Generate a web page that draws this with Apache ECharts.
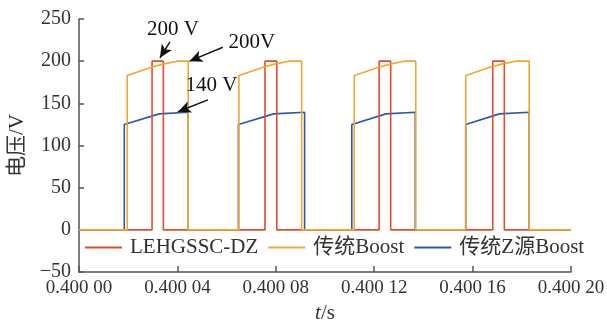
<!DOCTYPE html>
<html>
<head>
<meta charset="utf-8">
<script src="https://cdn.jsdelivr.net/npm/echarts@6/dist/echarts.min.js"></script>
<style>html,body{margin:0;padding:0;background:#fff}#c{width:607px;height:320px}</style>
</head>
<body>
<div id="c"></div>
<script>
// ---- data (time in s, voltage in V) ----
const seriesNames = ['LEHGSSC-DZ', '传统Boost', '传统Z源Boost'];
const xTickLabels = ['0.400 00', '0.400 04', '0.400 08', '0.400 12', '0.400 16', '0.400 20'];

const redT = [0.4, 0.4000297, 0.4000297, 0.4000343, 0.4000343, 0.4000756, 0.4000756, 0.4000804, 0.4000804,
              0.4001220, 0.4001220, 0.4001267, 0.4001267, 0.4001682, 0.4001682, 0.4001729, 0.4001729, 0.4002];
const redV = [0, 0, 200, 200, 0, 0, 200, 200, 0, 0, 200, 200, 0, 0, 200, 200, 0, 0];

const orangeT = [0.4,
  0.4000196, 0.4000196, 0.4000298, 0.4000342, 0.4000399, 0.4000444, 0.4000444,
  0.4000650, 0.4000650, 0.4000752, 0.4000796, 0.4000853, 0.4000905, 0.4000905,
  0.4001119, 0.4001119, 0.4001221, 0.4001265, 0.4001322, 0.4001369, 0.4001369,
  0.4001572, 0.4001572, 0.4001674, 0.4001718, 0.4001775, 0.4001830, 0.4001830,
  0.4002];
const orangeV = [0,
  0, 183, 193, 196.5, 200, 200, 0,
  0, 183, 193, 196.5, 200, 200, 0,
  0, 183, 193, 196.5, 200, 200, 0,
  0, 183, 193, 196.5, 200, 200, 0,
  0];

const blueT = [0.4,
  0.4000184, 0.4000184, 0.4000326, 0.4000444, 0.4000444,
  0.4000648, 0.4000648, 0.4000791, 0.4000917, 0.4000917,
  0.4001109, 0.4001109, 0.4001248, 0.4001367, 0.4001367,
  0.4001572, 0.4001572, 0.4001709, 0.4001830, 0.4001830,
  0.4002];
const blueV = [0,
  0, 125, 137.5, 139.5, 0,
  0, 125, 137.5, 139.5, 0,
  0, 125, 137.5, 139.5, 0,
  0, 125, 137.5, 139.5, 0,
  0];

// annotations (data coordinates)
const annoText = ['200 V', '200V', '140 V'];
const annoTextAt = [[0.4000382, 237], [0.4000703, 222], [0.4000538, 171]];
const arrowFrom = [[0.4000370, 223], [0.4000585, 216.5], [0.4000524, 154]];
const arrowTo = [[0.4000329, 204], [0.4000449, 200], [0.4000402, 140]];

const zip = (a, b) => a.map((t, i) => [t, b[i]]);
const serif = '"Liberation Serif", "Times New Roman", "Noto Sans CJK SC", serif';

const chart = echarts.init(document.getElementById('c'), null, {renderer: 'canvas'});
chart.setOption({
  animation: false,
  backgroundColor: '#fff',
  grid: {left: 79, right: 36, top: 19, bottom: 48, outerBoundsMode: 'none', containLabel: false},
  legend: {
    data: seriesNames,
    left: 80, top: 232,
    icon: 'rect', itemWidth: 37, itemHeight: 2, itemGap: 10,
    textStyle: {fontFamily: serif, fontSize: 21, color: '#333', padding: [0, 0, 0, 3]}
  },
  xAxis: {
    type: 'value', min: 0.4, max: 0.4002, interval: 0.00004,
    name: '{i|t}/s', nameLocation: 'middle', nameGap: 30,
    nameTextStyle: {fontFamily: serif, fontSize: 21, color: '#333',
      rich: {i: {fontFamily: serif, fontStyle: 'italic', fontSize: 21, color: '#333'}}},
    axisLine: {onZero: false, lineStyle: {color: '#555', width: 1.5}},
    axisTick: {inside: true, length: 6, lineStyle: {color: '#555', width: 1.5}},
    axisLabel: {fontFamily: serif, fontSize: 19, color: '#333', margin: 7,
      formatter: v => xTickLabels[Math.round((v - 0.4) / 0.00004)]},
    splitLine: {show: false}
  },
  yAxis: {
    type: 'value', min: -50, max: 250, interval: 50,
    name: '电压/V', nameLocation: 'middle', nameGap: 51, nameRotate: 90,
    nameTextStyle: {fontFamily: serif, fontSize: 21, color: '#333'},
    axisLine: {show: true, lineStyle: {color: '#555', width: 1.5}},
    axisTick: {show: true, inside: true, length: 5, lineStyle: {color: '#555', width: 1.5}},
    axisLabel: {fontFamily: serif, fontSize: 20, color: '#333', margin: 8,
      formatter: v => (v < 0 ? '\u2212' + Math.abs(v) : String(v))},
    splitLine: {show: false}
  },
  series: [
    {name: seriesNames[0], type: 'line', data: zip(redT, redV), symbol: 'none', z: 3,
     lineStyle: {color: '#de4f2a', width: 1.6}, itemStyle: {color: '#de4f2a'}},
    {name: seriesNames[1], type: 'line', data: zip(orangeT, orangeV), symbol: 'none', z: 4,
     lineStyle: {color: '#f0a732', width: 1.6}, itemStyle: {color: '#f0a732'},
     markLine: {
       silent: true, symbol: ['none', 'arrow'], symbolSize: [9, 13], animation: false,
       label: {show: false},
       lineStyle: {color: '#111', width: 1.4, type: 'solid'},
       data: arrowFrom.map((p, i) => [{coord: p}, {coord: arrowTo[i]}])
     },
     markPoint: {
       silent: true, symbol: 'circle', symbolSize: 0, animation: false,
       label: {show: true, position: 'inside', fontFamily: serif, fontSize: 21, color: '#111',
         formatter: p => p.name},
       data: annoText.map((t, i) => ({name: t, coord: annoTextAt[i]}))
     }},
    {name: seriesNames[2], type: 'line', data: zip(blueT, blueV), symbol: 'none', z: 2,
     lineStyle: {color: '#2a57b4', width: 1.6}, itemStyle: {color: '#2a57b4'}}
  ]
});
</script>
</body>
</html>
